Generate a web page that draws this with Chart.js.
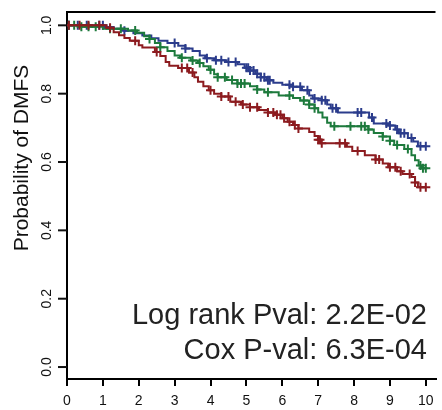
<!DOCTYPE html>
<html>
<head>
<meta charset="utf-8">
<style>
  html, body { margin: 0; padding: 0; background: #fff; }
  #wrap { width: 442px; height: 410px; }
</style>
</head>
<body>
<div id="wrap">
    <canvas id="kmChart" width="442" height="410"></canvas>
</div>

<script src="https://cdn.jsdelivr.net/npm/chart.js"></script>

<script>
    // Kaplan-Meier curves: event times and survival after each drop
    const blueTime = [0, 1.05, 1.3, 1.6, 1.85, 2.1, 2.35, 2.55, 2.8, 3.1, 3.3, 3.5, 3.7, 3.85, 4.1, 4.45, 4.75, 4.95, 5.1, 5.25, 5.4, 5.56, 5.75, 6.0, 6.3, 6.55, 6.75, 6.85, 7.1, 7.25, 7.35, 7.55, 8.42, 8.55, 8.95, 9.15, 9.25, 9.5, 9.65, 9.78];
    const blueSurv = [1.0, 0.995, 0.99, 0.984, 0.977, 0.97, 0.962, 0.955, 0.948, 0.94, 0.932, 0.925, 0.912, 0.904, 0.898, 0.893, 0.886, 0.876, 0.868, 0.858, 0.848, 0.839, 0.832, 0.826, 0.82, 0.81, 0.795, 0.786, 0.781, 0.768, 0.757, 0.745, 0.73, 0.713, 0.707, 0.695, 0.684, 0.67, 0.66, 0.646];
    const blueCens = [0.05, 0.3, 0.55, 0.9, 1.0, 1.6, 3.0, 3.3, 3.9, 4.15, 4.3, 4.5, 4.7, 5.0, 5.05, 5.1, 5.2, 5.3, 5.4, 5.5, 5.6, 5.65, 6.2, 6.3, 6.5, 6.7, 6.9, 7.1, 7.2, 7.4, 7.5, 8.1, 8.2, 8.5, 8.9, 9.0, 9.2, 9.3, 9.4, 9.6, 9.85, 10.0];

    const greenTime = [0, 0.3, 1.0, 1.7, 1.95, 2.15, 2.3, 2.45, 2.6, 2.8, 3.0, 3.15, 3.45, 3.65, 3.8, 3.95, 4.1, 4.2, 4.45, 4.75, 5.1, 5.3, 5.5, 5.9, 6.3, 6.5, 6.75, 6.9, 7.0, 7.12, 7.25, 7.35, 8.4, 8.55, 8.8, 9.0, 9.12, 9.4, 9.6, 9.7, 9.8, 9.88];
    const greenSurv = [1.0, 0.996, 0.99, 0.985, 0.978, 0.968, 0.96, 0.948, 0.936, 0.925, 0.912, 0.905, 0.897, 0.89, 0.88, 0.87, 0.857, 0.848, 0.84, 0.83, 0.822, 0.812, 0.804, 0.795, 0.787, 0.78, 0.768, 0.757, 0.745, 0.73, 0.715, 0.705, 0.695, 0.685, 0.675, 0.662, 0.65, 0.638, 0.62, 0.605, 0.59, 0.582];
    const greenCens = [0.05, 0.2, 0.4, 0.6, 0.8, 1.2, 1.5, 1.9, 2.3, 2.6, 3.2, 3.5, 3.7, 4.0, 4.2, 4.4, 4.6, 4.75, 4.85, 4.95, 5.3, 5.6, 6.2, 6.6, 6.75, 6.9, 7.45, 7.9, 8.2, 8.3, 8.4, 8.8, 9.0, 9.2, 9.5, 9.85, 9.92, 10.0];

    const redTime = [0, 1.1, 1.3, 1.45, 1.6, 1.75, 2.0, 2.1, 2.45, 2.6, 2.75, 2.85, 3.1, 3.4, 3.55, 3.65, 3.8, 3.95, 4.1, 4.3, 4.55, 4.85, 5.1, 5.35, 5.6, 5.8, 6.0, 6.15, 6.3, 6.45, 6.75, 6.9, 7.0, 7.08, 7.8, 7.95, 8.3, 8.6, 8.8, 8.95, 9.2, 9.35, 9.6, 9.7, 9.78];
    const redSurv = [1.0, 0.993, 0.98, 0.971, 0.963, 0.955, 0.942, 0.935, 0.922, 0.91, 0.893, 0.882, 0.875, 0.862, 0.848, 0.835, 0.822, 0.81, 0.8, 0.792, 0.776, 0.768, 0.76, 0.752, 0.745, 0.738, 0.728, 0.718, 0.708, 0.698, 0.688, 0.676, 0.665, 0.655, 0.645, 0.632, 0.62, 0.607, 0.596, 0.585, 0.573, 0.565, 0.556, 0.54, 0.526];
    const redCens = [0.05, 0.35, 0.6, 0.9, 1.2, 1.9, 2.5, 3.2, 3.35, 3.5, 4.0, 4.3, 4.5, 4.7, 4.9, 5.1, 5.3, 5.6, 5.75, 5.85, 5.95, 6.05, 6.2, 6.35, 6.45, 7.0, 7.05, 7.1, 7.6, 7.75, 8.1, 8.6, 8.7, 9.0, 9.15, 9.3, 9.55, 9.7, 9.85, 10.0];

    const xTicks = [0, 1, 2, 3, 4, 5, 6, 7, 8, 9, 10];
    const yTicks = [0, 0.2, 0.4, 0.6, 0.8, 1.0];
    const statLines = ['Log rank Pval: 2.2E-02', 'Cox P-val: 6.3E-04'];
    const yTitle = 'Probability of DMFS';

    const FONT = "'Liberation Sans', Arial, Helvetica, sans-serif";
    const BLUE = '#2b3c8c';
    const GREEN = '#1d7a3c';
    const RED = '#8c1b1f';

    // survival level at time t (value of the step curve)
    function survAt(times, surv, t) {
        let s = surv[0];
        for (let i = 0; i < times.length; i++) {
            if (times[i] <= t) s = surv[i];
        }
        return s;
    }

    function curve(times, surv, cens) {
        const pts = times.map((t, i) => ({x: t, y: surv[i]}));
        const end = Math.max(...cens);
        pts.push({x: end, y: surv[surv.length - 1]});
        return pts;
    }

    function marks(times, surv, cens) {
        return cens.map(t => ({x: t, y: survAt(times, surv, t)}));
    }

    function lineSet(data, color, order) {
        return {
            data: data, borderColor: color, borderWidth: 2, stepped: true,
            pointRadius: 0, fill: false, order: order
        };
    }

    function censSet(data, color, order) {
        return {
            data: data, showLine: false, pointStyle: 'cross', pointRadius: 4.5,
            borderColor: color, borderWidth: 2, order: order
        };
    }

    const decorations = {
        id: 'decorations',
        afterDraw(chart) {
            const c = chart.ctx;
            const a = chart.chartArea;
            const y = chart.scales.y;
            c.save();
            // top frame line
            c.strokeStyle = '#000';
            c.lineWidth = 2;
            c.beginPath();
            c.moveTo(a.left, a.top);
            c.lineTo(a.right, a.top);
            c.stroke();

            // y tick marks and rotated labels
            c.fillStyle = '#111';
            c.font = '14px ' + FONT;
            c.textAlign = 'center';
            c.textBaseline = 'middle';
            yTicks.forEach(v => {
                const py = y.getPixelForValue(v);
                c.fillRect(a.left - 9, py - 1, 9, 2);
                c.save();
                c.translate(47, py);
                c.rotate(-Math.PI / 2);
                c.fillText(v.toFixed(1), 0, 0);
                c.restore();
            });

            // y axis title
            c.save();
            c.font = '21px ' + FONT;
            c.translate(22, 158);
            c.rotate(-Math.PI / 2);
            c.fillText(yTitle, 0, 0);
            c.restore();

            // test statistics
            c.fillStyle = '#222';
            c.font = '29px ' + FONT;
            c.textAlign = 'right';
            c.textBaseline = 'alphabetic';
            c.fillText(statLines[0], 427, 324);
            c.fillText(statLines[1], 427, 359);
            c.restore();
        }
    };

    const ctx = document.getElementById('kmChart');

    new Chart(ctx, {
        type: 'line',
        data: {
            datasets: [
                lineSet(curve(redTime, redSurv, redCens), RED, 1),
                censSet(marks(redTime, redSurv, redCens), RED, 0),
                lineSet(curve(greenTime, greenSurv, greenCens), GREEN, 3),
                censSet(marks(greenTime, greenSurv, greenCens), GREEN, 2),
                lineSet(curve(blueTime, blueSurv, blueCens), BLUE, 5),
                censSet(marks(blueTime, blueSurv, blueCens), BLUE, 4)
            ]
        },
        options: {
            responsive: false,
            animation: false,
            layout: {padding: {top: 12, left: 0, right: 0, bottom: 0}},
            plugins: {legend: {display: false}, tooltip: {enabled: false}},
            scales: {
                x: {
                    type: 'linear', min: 0, max: 10.27,
                    afterBuildTicks: s => { s.ticks = xTicks.map(v => ({value: v})); },
                    afterFit: s => { s.height = 31; },
                    grid: {drawOnChartArea: false, drawTicks: true, tickLength: 7, color: '#000', lineWidth: 2},
                    border: {display: true, color: '#000', width: 2},
                    ticks: {color: '#111', font: {size: 14, family: FONT}, padding: 7, maxRotation: 0, autoSkip: false}
                },
                y: {
                    type: 'linear', min: -0.035, max: 1.039,
                    afterBuildTicks: s => { s.ticks = yTicks.map(v => ({value: v})); },
                    afterFit: s => { s.width = 67; },
                    grid: {display: false},
                    border: {display: true, color: '#000', width: 2},
                    ticks: {display: false}
                }
            }
        },
        plugins: [decorations]
    });
</script>
</body>
</html>
